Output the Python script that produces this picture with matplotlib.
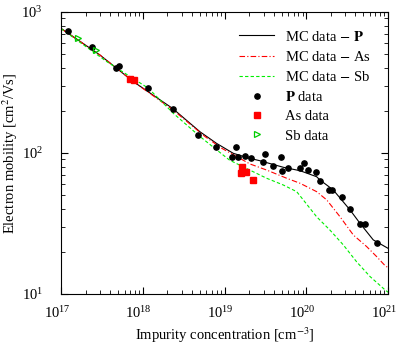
import numpy as np
import matplotlib
matplotlib.use("Agg")
import matplotlib.pyplot as plt
import matplotlib.transforms as mtransforms
from matplotlib.legend_handler import HandlerLine2D

plt.rcParams["font.family"] = "Liberation Serif"
plt.rcParams["mathtext.fontset"] = "stix"

# MC curves (concentration in cm^-3, mobility in cm^2/Vs)
mc_p_x = [1e17, 3.0e17, 7.66e17, 2.32e18, 5.0e18, 8.0e18, 1.28e19, 2.05e19, 2.72e19,
          5.24e19, 8.4e19, 1.34e20, 1.47e20, 2.14e20, 3.43e20, 4.55e20, 6.6e20, 1e21]
mc_p_y = [766, 495, 321, 207, 141.6, 117, 99.5, 91.6, 88.1,
          79.2, 74.9, 67.9, 64.4, 54.7, 39.5, 31.7, 24.2, 21.1]

mc_as_x = [1e17, 3.0e17, 7.66e17, 2.32e18, 5.8e18, 9.25e18, 2.05e19, 3.28e19, 5.77e19,
           8.4e19, 1.34e20, 1.78e20, 2.59e20, 3.77e20, 5.48e20, 7.28e20, 9.2e20, 1e21]
mc_as_y = [762, 495, 321, 203, 130.6, 108, 83.6, 75.7, 66.2,
           61.0, 53.2, 46.5, 35.3, 26.2, 21.7, 18.4, 15.9, 15.4]

mc_sb_x = [1e17, 3.62e17, 1.17e18, 2.37e18, 5.0e18, 1.15e19, 2.25e19, 3.28e19,
           5.24e19, 7.64e19, 9.2e19, 1.34e20, 1.95e20, 2.84e20, 4.14e20, 6.03e20, 9.2e20, 1e21]
mc_sb_y = [762, 445, 288, 191, 131, 89.1, 73.6, 66.2,
           59.3, 53.2, 46.5, 35.3, 28.4, 22.3, 16.9, 13.3, 10.7, 10.3]

# measured data
p_x = [1.23e17, 2.38e17, 4.71e17, 5.16e17, 1.17e18, 2.32e18, 4.79e18, 7.87e18,
       1.38e19, 1.24e19, 1.48e19, 1.78e19, 2.09e19, 3.13e19, 2.93e19, 3.89e19,
       4.87e19, 5.05e19, 6.03e19, 8.39e19, 9.38e19, 1.06e20, 1.31e20, 1.47e20,
       1.90e20, 2.08e20, 2.76e20, 3.43e20, 4.54e20, 5.19e20, 7.33e20]
p_y = [733, 568, 403, 414, 288, 205, 134, 109.7,
       110.8, 94.2, 94.2, 95.3, 91.7, 98.4, 85.9, 80.5,
       93.3, 74.5, 77.8, 78.3, 85.0, 75.7, 73.0, 63.6,
       54.7, 54.7, 49.0, 40.1, 31.4, 31.5, 22.9]

as_x = [6.98e17, 7.89e17, 1.65e19, 1.59e19, 1.83e19, 2.25e19]
as_y = [335, 331, 79.2, 71.8, 73.3, 64.0]

sb_x = [1.60e17, 2.66e17]
sb_y = [658, 537]


class RightMarker(HandlerLine2D):
    # put the legend marker at the right end of the handle
    def get_xdata(self, legend, xdescent, ydescent, width, height, fontsize):
        xd, xm = super().get_xdata(legend, xdescent, ydescent, width, height, fontsize)
        return xd, np.array([-xdescent + width - 1])


fig = plt.figure(figsize=(3.97, 3.45), dpi=100)
ax = fig.add_axes([0.1537, 0.1478, 0.8236, 0.8174])

ax.plot(mc_p_x, mc_p_y, color="black", lw=0.8, label=r"MC data $-$ $\mathbf{P}$")
ax.plot(mc_as_x, mc_as_y, color="red", lw=0.8, dashes=(5, 2, 1, 2),
        label=r"MC data $-$ As")
ax.plot(mc_sb_x, mc_sb_y, color="#00ee00", lw=0.8, dashes=(3, 2),
        label=r"MC data $-$ Sb")
mp, = ax.plot(p_x, p_y, "o", color="black", ms=3.8, ls="none", label=r"$\mathbf{P}$ data")
ma, = ax.plot(as_x, as_y, "s", color="red", ms=4.5, ls="none", label="As data")
ms, = ax.plot(sb_x, sb_y, ">", color="#00cc00", mfc="none", ms=5, mew=0.9,
              ls="none", label="Sb data")

ax.set_xscale("log")
ax.set_yscale("log")
ax.set_xlim(1e17, 1e21)
ax.set_ylim(10, 1000)

ax.tick_params(which="both", direction="in", top=True, right=True, labelsize=10.5)
ax.tick_params(which="major", length=5, width=0.8)
ax.tick_params(which="minor", length=3, width=0.6)
ax.tick_params(axis="x", pad=8)
ax.tick_params(axis="y", pad=13)

# shift x tick labels a little to the left, like the original
shift = mtransforms.ScaledTranslation(-4 / 100, 0, fig.dpi_scale_trans)
for lab in ax.get_xticklabels():
    lab.set_transform(lab.get_transform() + shift)

ax.set_xlabel(r"Impurity concentration [cm$^{-3}$]", fontsize=10.5, labelpad=3)
ax.set_ylabel(r"Electron mobility [cm$^2$/Vs]", fontsize=10.5, labelpad=1)

h = RightMarker()
ax.legend(loc="upper right", frameon=False, fontsize=10.5, handlelength=2.4,
          handletextpad=0.7, labelspacing=0.42, borderaxespad=0.8,
          handler_map={mp: h, ma: h, ms: h})

fig.savefig("out.png", dpi=100)
